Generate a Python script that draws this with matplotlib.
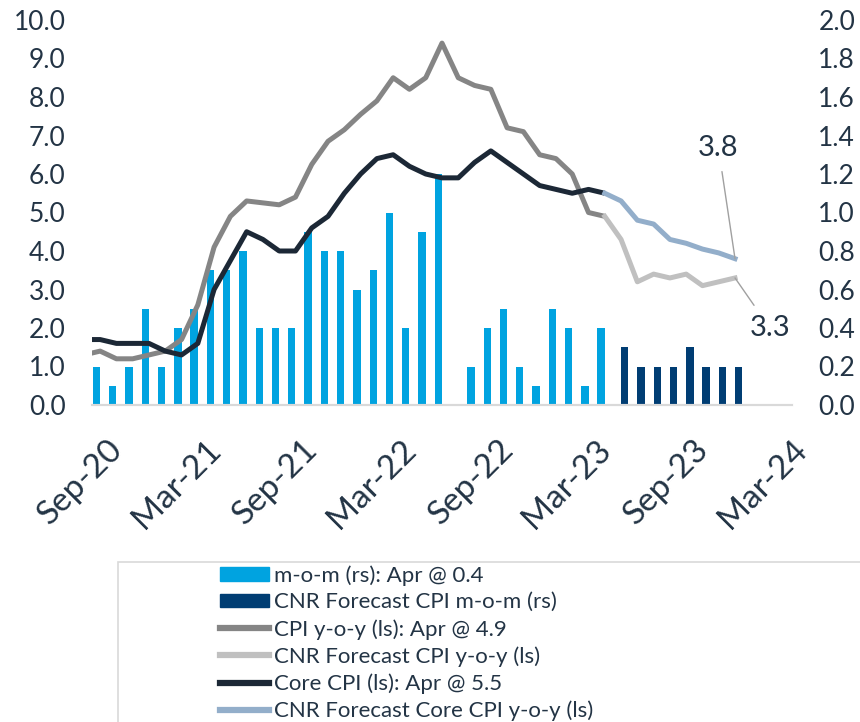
import numpy as np
import matplotlib
matplotlib.use("Agg")
import matplotlib.pyplot as plt
from matplotlib.patches import Patch, Rectangle
from matplotlib.lines import Line2D

plt.rcParams['font.family'] = ['Lato', 'DejaVu Sans']

TXT = '#233445'
C_MOM = '#00A3E0'
C_MOM_FC = '#003D73'
C_CPI = '#858585'
C_CPI_FC = '#C0C0C0'
C_CORE = '#1C2836'
C_CORE_FC = '#93AECA'

# month index 0 = Sep-20
tick_pos = [0, 6, 12, 18, 24, 30, 36, 42]
tick_labels = ['Sep-20', 'Mar-21', 'Sep-21', 'Mar-22', 'Sep-22', 'Mar-23', 'Sep-23', 'Mar-24']

# m-o-m (rs), Sep-20 .. Apr-23
mom = [0.2, 0.1, 0.2, 0.5, 0.2, 0.4, 0.5, 0.7, 0.7, 0.8, 0.4, 0.4, 0.4, 0.9, 0.8, 0.8,
       0.6, 0.7, 1.0, 0.4, 0.9, 1.2, 0.0, 0.2, 0.4, 0.5, 0.2, 0.1, 0.5, 0.4, 0.1, 0.4]
# forecast m-o-m, May-23 .. Dec-23
mom_fc = [0.3, 0.2, 0.2, 0.2, 0.3, 0.2, 0.2, 0.2]

# CPI y-o-y (ls), Aug-20 .. Apr-23
cpi = [1.3, 1.4, 1.2, 1.2, 1.3, 1.4, 1.7, 2.6, 4.1, 4.9, 5.3, 5.25, 5.2, 5.4, 6.25, 6.85, 7.15,
       7.55, 7.9, 8.5, 8.2, 8.5, 9.4, 8.5, 8.3, 8.2, 7.2, 7.1, 6.5, 6.4, 6.0, 5.0, 4.9]
# forecast CPI y-o-y, Apr-23 .. Dec-23
cpi_fc = [4.9, 4.3, 3.2, 3.4, 3.3, 3.4, 3.1, 3.2, 3.3]

# Core CPI (ls), Aug-20 .. Apr-23
core = [1.7, 1.7, 1.6, 1.6, 1.6, 1.4, 1.3, 1.6, 3.0, 3.75, 4.5, 4.3, 4.0, 4.0, 4.6, 4.9, 5.5,
        6.0, 6.4, 6.5, 6.2, 6.0, 5.9, 5.9, 6.3, 6.6, 6.3, 6.0, 5.7, 5.6, 5.5, 5.6, 5.5]
# forecast core CPI y-o-y, Apr-23 .. Dec-23
core_fc = [5.5, 5.3, 4.8, 4.7, 4.3, 4.2, 4.05, 3.95, 3.8]

x_mom = np.arange(len(mom))
x_mom_fc = np.arange(len(mom), len(mom) + len(mom_fc))
x_line = np.arange(-1, len(cpi) - 1)
x_fc = np.arange(len(cpi) - 2, len(cpi) - 2 + len(cpi_fc))

fig = plt.figure(figsize=(8.6, 7.22), dpi=100)
ax = fig.add_axes([92 / 860, 1 - 405 / 722, 700 / 860, 385 / 722])
ax2 = ax.twinx()
ax.set_zorder(ax2.get_zorder() + 1)
ax.patch.set_visible(False)

w = 0.45
ax2.bar(x_mom - w / 2, mom, width=w, color=C_MOM)
ax2.bar(x_mom_fc + w / 2, mom_fc, width=w, color=C_MOM_FC)

lw = 3.6
ax.plot(x_line, cpi, color=C_CPI, lw=lw, solid_capstyle='butt')
ax.plot(x_fc, cpi_fc, color=C_CPI_FC, lw=lw)
ax.plot(x_line, core, color=C_CORE, lw=lw, solid_capstyle='butt')
ax.plot(x_fc, core_fc, color=C_CORE_FC, lw=lw)

ax.set_xlim(-0.5, 42.5)
ax.set_ylim(0, 10)
ax2.set_ylim(0, 2)
ax.set_yticks(np.arange(0, 10.01, 1.0))
ax.set_yticklabels([f'{v:.1f}' for v in np.arange(0, 10.01, 1.0)])
ax2.set_yticks(np.arange(0, 2.001, 0.2))
ax2.set_yticklabels([f'{v:.1f}' for v in np.arange(0, 2.001, 0.2)])

for a in (ax, ax2):
    for s in ('top', 'left', 'right'):
        a.spines[s].set_visible(False)
    a.spines['bottom'].set_color('#D9D9D9')
    a.spines['bottom'].set_linewidth(1.5)
    a.tick_params(length=0, labelsize=19, colors=TXT)
ax.tick_params(axis='y', pad=19)
ax2.tick_params(axis='y', pad=19)
ax.tick_params(axis='x', pad=21)

ax.set_xticks([p + 0.45 for p in tick_pos])
ax.set_xticklabels(tick_labels, rotation=45, ha='right', va='top', rotation_mode='anchor',
                   fontsize=24, color=TXT)

ann = dict(arrowstyle='-', color='#A0A0A0', lw=1.0, shrinkA=6, shrinkB=0)
ax.annotate(f'{core_fc[-1]:.1f}', xy=(x_fc[-1], core_fc[-1]), xytext=(-12, 80),
            textcoords='offset points', ha='center', va='center', fontsize=21,
            color=TXT, arrowprops=ann)
ax.annotate(f'{cpi_fc[-1]:.1f}', xy=(x_fc[-1], cpi_fc[-1]), xytext=(25, -36),
            textcoords='offset points', ha='center', va='center', fontsize=21,
            color=TXT, arrowprops=ann)

fig.patches.append(Rectangle((118 / 860, -0.2), 1.0, 1 - 562 / 722 + 0.2,
                             transform=fig.transFigure, fill=False,
                             edgecolor='#D9D9D9', lw=1.2))

handles = [Patch(color=C_MOM), Patch(color=C_MOM_FC),
           Line2D([], [], color=C_CPI, lw=4.5), Line2D([], [], color=C_CPI_FC, lw=4.5),
           Line2D([], [], color=C_CORE, lw=4.5), Line2D([], [], color=C_CORE_FC, lw=4.5)]
labels = ['m-o-m (rs): Apr @ 0.4', 'CNR Forecast CPI m-o-m (rs)', 'CPI y-o-y (ls): Apr @ 4.9',
          'CNR Forecast CPI y-o-y (ls)', 'Core CPI (ls): Apr @ 5.5',
          'CNR Forecast Core CPI y-o-y (ls)']
leg = fig.legend(handles, labels, loc='upper left', bbox_to_anchor=(220 / 860, 1 - 565 / 722),
                 frameon=False, fontsize=16, handlelength=2.2, handleheight=0.57,
                 handletextpad=0.25, labelspacing=0.3, borderpad=0, borderaxespad=0)
for t in leg.get_texts():
    t.set_color(TXT)

fig.savefig('out.png', dpi=100)
